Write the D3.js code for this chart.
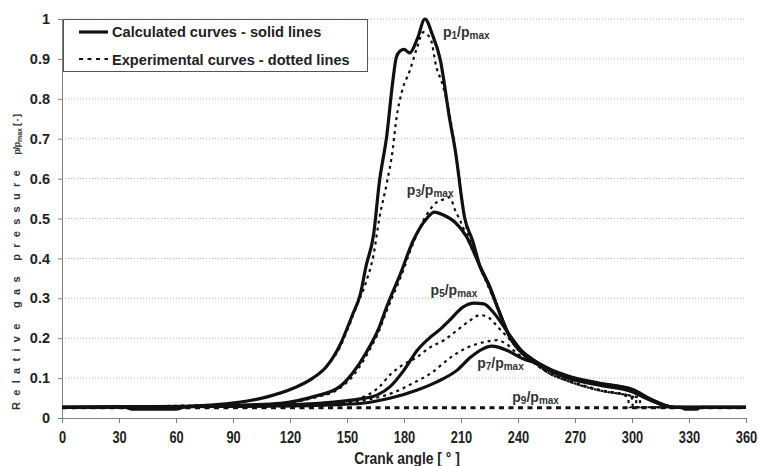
<!DOCTYPE html>
<html>
<head>
<meta charset="utf-8">
<script src="https://cdn.jsdelivr.net/npm/d3@7"></script>
<style>
  body { margin: 0; background: #fff; }
  text { font-family: Arial, "Liberation Sans", sans-serif; }
</style>
</head>
<body>
<div id="chart"></div>
<script>
// tick values
const xTicks = [0, 30, 60, 90, 120, 150, 180, 210, 240, 270, 300, 330, 360];
const yTicks = [0, 0.1, 0.2, 0.3, 0.4, 0.5, 0.6, 0.7, 0.8, 0.9, 1];

// calculated curves (crank angle, p/pmax)
const calcP1 = [[0,0.027],[33,0.027],[37,0.022],[60,0.022],[64,0.027],[80,0.033],[94,0.04],[108,0.053],[122,0.075],[132,0.1],[139,0.128],[146,0.18],[153,0.26],[157,0.31],[160,0.38],[164,0.46],[167,0.59],[171,0.71],[174,0.84],[176,0.905],[178,0.92],[180,0.924],[183,0.915],[187,0.95],[191,1.0],[195,0.96],[199,0.9],[204,0.75],[207,0.67],[212,0.5],[216,0.446],[220,0.38],[225,0.33],[229,0.28],[236,0.2],[242,0.165],[248,0.145],[256,0.122],[266,0.103],[283,0.085],[300,0.07],[310,0.045],[322,0.027],[360,0.027]];
const calcP3 = [[0,0.027],[80,0.03],[97,0.033],[115,0.037],[132,0.053],[146,0.078],[153,0.113],[160,0.163],[167,0.228],[171,0.28],[178,0.36],[185,0.446],[192,0.5],[196,0.516],[201,0.508],[207,0.49],[213,0.454],[220,0.38],[225,0.33],[229,0.28],[236,0.2],[242,0.163],[248,0.142],[256,0.12],[266,0.1],[283,0.082],[300,0.066],[310,0.044],[322,0.027],[326,0.027],[328,0.022],[334,0.022],[336,0.027],[360,0.027]];
const calcP5 = [[0,0.027],[100,0.03],[125,0.034],[143,0.04],[157,0.048],[166,0.058],[173,0.08],[180,0.12],[187,0.17],[194,0.203],[199,0.222],[204,0.245],[211,0.278],[217,0.288],[222,0.286],[227,0.265],[231,0.24],[236,0.205],[242,0.168],[248,0.146],[256,0.123],[266,0.104],[283,0.086],[300,0.071],[310,0.046],[322,0.027],[360,0.027]];
const calcP7 = [[0,0.027],[110,0.03],[141,0.033],[158,0.037],[173,0.05],[187,0.07],[197,0.09],[208,0.12],[215,0.152],[221,0.172],[226,0.18],[230,0.177],[234,0.17],[243,0.148],[251,0.136],[258,0.12],[266,0.106],[283,0.087],[300,0.072],[310,0.047],[322,0.027],[360,0.027]];

// experimental curves (crank angle, p/pmax)
const expP1 = [[0,0.027],[80,0.033],[94,0.04],[108,0.053],[122,0.075],[132,0.1],[139,0.128],[146,0.175],[151,0.23],[155,0.28],[160,0.34],[164,0.41],[167,0.5],[171,0.59],[174,0.67],[176,0.75],[179,0.82],[183,0.87],[187,0.93],[190,0.967],[194,0.95],[197,0.88],[200,0.84],[204,0.76],[207,0.67],[212,0.5],[220,0.38],[229,0.28],[236,0.2],[248,0.14],[256,0.115],[266,0.095],[283,0.07],[297,0.055],[298,0.05],[298.5,0.027],[360,0.027]];
const expP3 = [[0,0.027],[97,0.032],[115,0.036],[132,0.05],[146,0.074],[153,0.105],[160,0.155],[167,0.22],[171,0.27],[178,0.35],[185,0.44],[192,0.51],[197,0.54],[201,0.548],[204,0.553],[207,0.52],[210,0.49],[213,0.454],[220,0.38],[229,0.28],[236,0.2],[248,0.14],[256,0.114],[266,0.094],[283,0.07],[298,0.056],[300,0.05],[300.5,0.027],[360,0.027]];
const expP5 = [[0,0.027],[120,0.032],[143,0.038],[157,0.05],[167,0.078],[173,0.11],[180,0.135],[186,0.15],[194,0.178],[201,0.195],[208,0.22],[215,0.245],[220,0.258],[225,0.25],[230,0.225],[236,0.195],[248,0.14],[256,0.113],[266,0.093],[283,0.069],[299,0.055],[302,0.05],[302.5,0.027],[360,0.027]];
const expP7 = [[0,0.027],[130,0.03],[150,0.037],[160,0.045],[174,0.063],[185,0.088],[195,0.115],[204,0.15],[213,0.176],[222,0.19],[229,0.195],[234,0.185],[240,0.16],[248,0.14],[256,0.113],[266,0.093],[283,0.069],[300,0.055],[304,0.05],[304.5,0.027],[360,0.027]];
const expP9 = [[0,0.026],[360,0.026]];

const calcCurves = [calcP1, calcP3, calcP5, calcP7];
const expCurves = [expP1, expP3, expP5, expP7];

const curveLabels = [
  { n: "1", a: 200.5, v: 0.955 },
  { n: "3", a: 181.5, v: 0.558 },
  { n: "5", a: 194, v: 0.308 },
  { n: "7", a: 218.5, v: 0.125 },
  { n: "9", a: 237, v: 0.04 }
];

const width = 758, height = 466;
const margin = { top: 19, right: 12, bottom: 48, left: 62 };
const narrow = 0.8;

const svg = d3.select("#chart").append("svg")
  .attr("width", width)
  .attr("height", height);

const x = d3.scaleLinear().domain([0, 360]).range([margin.left, width - margin.right]);
const y = d3.scaleLinear().domain([0, 1]).range([height - margin.bottom, margin.top]);

// gridlines
svg.append("g")
  .selectAll("line")
  .data(yTicks.filter(d => d > 0))
  .join("line")
  .attr("x1", x(0)).attr("x2", x(360))
  .attr("y1", d => y(d)).attr("y2", d => y(d))
  .attr("stroke", "#b5b5b5")
  .attr("stroke-width", 1)
  .attr("stroke-dasharray", "1,2");

// axes
const xAxis = svg.append("g")
  .attr("transform", `translate(0,${y(0)})`)
  .call(d3.axisBottom(x).tickValues(xTicks).tickSize(5).tickPadding(9).tickFormat(d3.format("d")));
xAxis.selectAll("text")
  .attr("font-size", 16).attr("font-weight", "bold").attr("fill", "#222")
  .attr("transform", `scale(${narrow},1)`);

const yAxis = svg.append("g")
  .attr("transform", `translate(${x(0)},0)`)
  .call(d3.axisLeft(y).tickValues(yTicks).tickSize(4).tickPadding(8)
    .tickFormat(d => d === 0 ? "0" : d === 1 ? "1" : d3.format(".1f")(d)));
yAxis.selectAll("text")
  .attr("font-size", 14.5).attr("font-weight", "bold").attr("fill", "#222");

svg.selectAll(".domain, .tick line").attr("stroke", "#808080");

// axis titles
svg.append("text")
  .attr("transform", `translate(${(x(0) + x(360)) / 2 + 3},464) scale(${narrow + 0.04},1)`)
  .attr("text-anchor", "middle")
  .attr("font-size", 16.5).attr("font-weight", "bold").attr("fill", "#222")
  .text("Crank angle [ ° ]");

const yTitle = svg.append("text")
  .attr("transform", "translate(20,410) rotate(-90)")
  .attr("font-size", 11).attr("font-weight", "bold").attr("fill", "#333");
yTitle.append("tspan").attr("letter-spacing", 6.3).text("Relative gas pressure ");
yTitle.append("tspan").attr("font-size", 9).attr("letter-spacing", -0.3).text("p/p");
yTitle.append("tspan").attr("font-size", 7).attr("dy", 2).text("max");
yTitle.append("tspan").attr("font-size", 9).attr("letter-spacing", -0.5).attr("dy", -2).text(" [ - ]");

// lines
const line = d3.line()
  .x(d => x(d[0]))
  .y(d => y(d[1]))
  .curve(d3.curveMonotoneX);

svg.append("path")
  .datum(expP9)
  .attr("d", line)
  .attr("fill", "none")
  .attr("stroke", "#111")
  .attr("stroke-width", 3)
  .attr("stroke-dasharray", "5,4.5");

svg.append("g")
  .selectAll("path")
  .data(expCurves)
  .join("path")
  .attr("d", line)
  .attr("fill", "none")
  .attr("stroke", "#111")
  .attr("stroke-width", 2.2)
  .attr("stroke-dasharray", "3,4");

svg.append("g")
  .selectAll("path")
  .data(calcCurves)
  .join("path")
  .attr("d", line)
  .attr("fill", "none")
  .attr("stroke", "#111")
  .attr("stroke-width", 3.2)
  .attr("stroke-linejoin", "round");

// curve labels
const lab = svg.append("g")
  .selectAll("text")
  .data(curveLabels)
  .join("text")
  .attr("x", d => x(d.a))
  .attr("y", d => y(d.v))
  .attr("font-size", 14).attr("font-weight", "bold").attr("fill", "#333");
lab.append("tspan").text("p");
lab.append("tspan").attr("font-size", 10).attr("dy", 2).text(d => d.n);
lab.append("tspan").attr("dy", -2).text("/p");
lab.append("tspan").attr("font-size", 10).attr("dy", 2).text("max");

// legend
const legend = svg.append("g");
legend.append("rect")
  .attr("x", 63.5).attr("y", 19.5)
  .attr("width", 304).attr("height", 52)
  .attr("fill", "#fff").attr("stroke", "#555").attr("stroke-width", 1);
legend.append("line")
  .attr("x1", 79).attr("x2", 108).attr("y1", 32).attr("y2", 32)
  .attr("stroke", "#111").attr("stroke-width", 3.2);
legend.append("line")
  .attr("x1", 79).attr("x2", 108).attr("y1", 59).attr("y2", 59)
  .attr("stroke", "#111").attr("stroke-width", 2).attr("stroke-dasharray", "4,4.5");
legend.append("text")
  .attr("x", 112).attr("y", 37)
  .attr("font-size", 14.6).attr("font-weight", "bold").attr("fill", "#222")
  .text("Calculated curves - solid lines");
legend.append("text")
  .attr("x", 112).attr("y", 65)
  .attr("font-size", 14.6).attr("font-weight", "bold").attr("fill", "#222")
  .text("Experimental curves - dotted lines");
</script>
</body>
</html>
